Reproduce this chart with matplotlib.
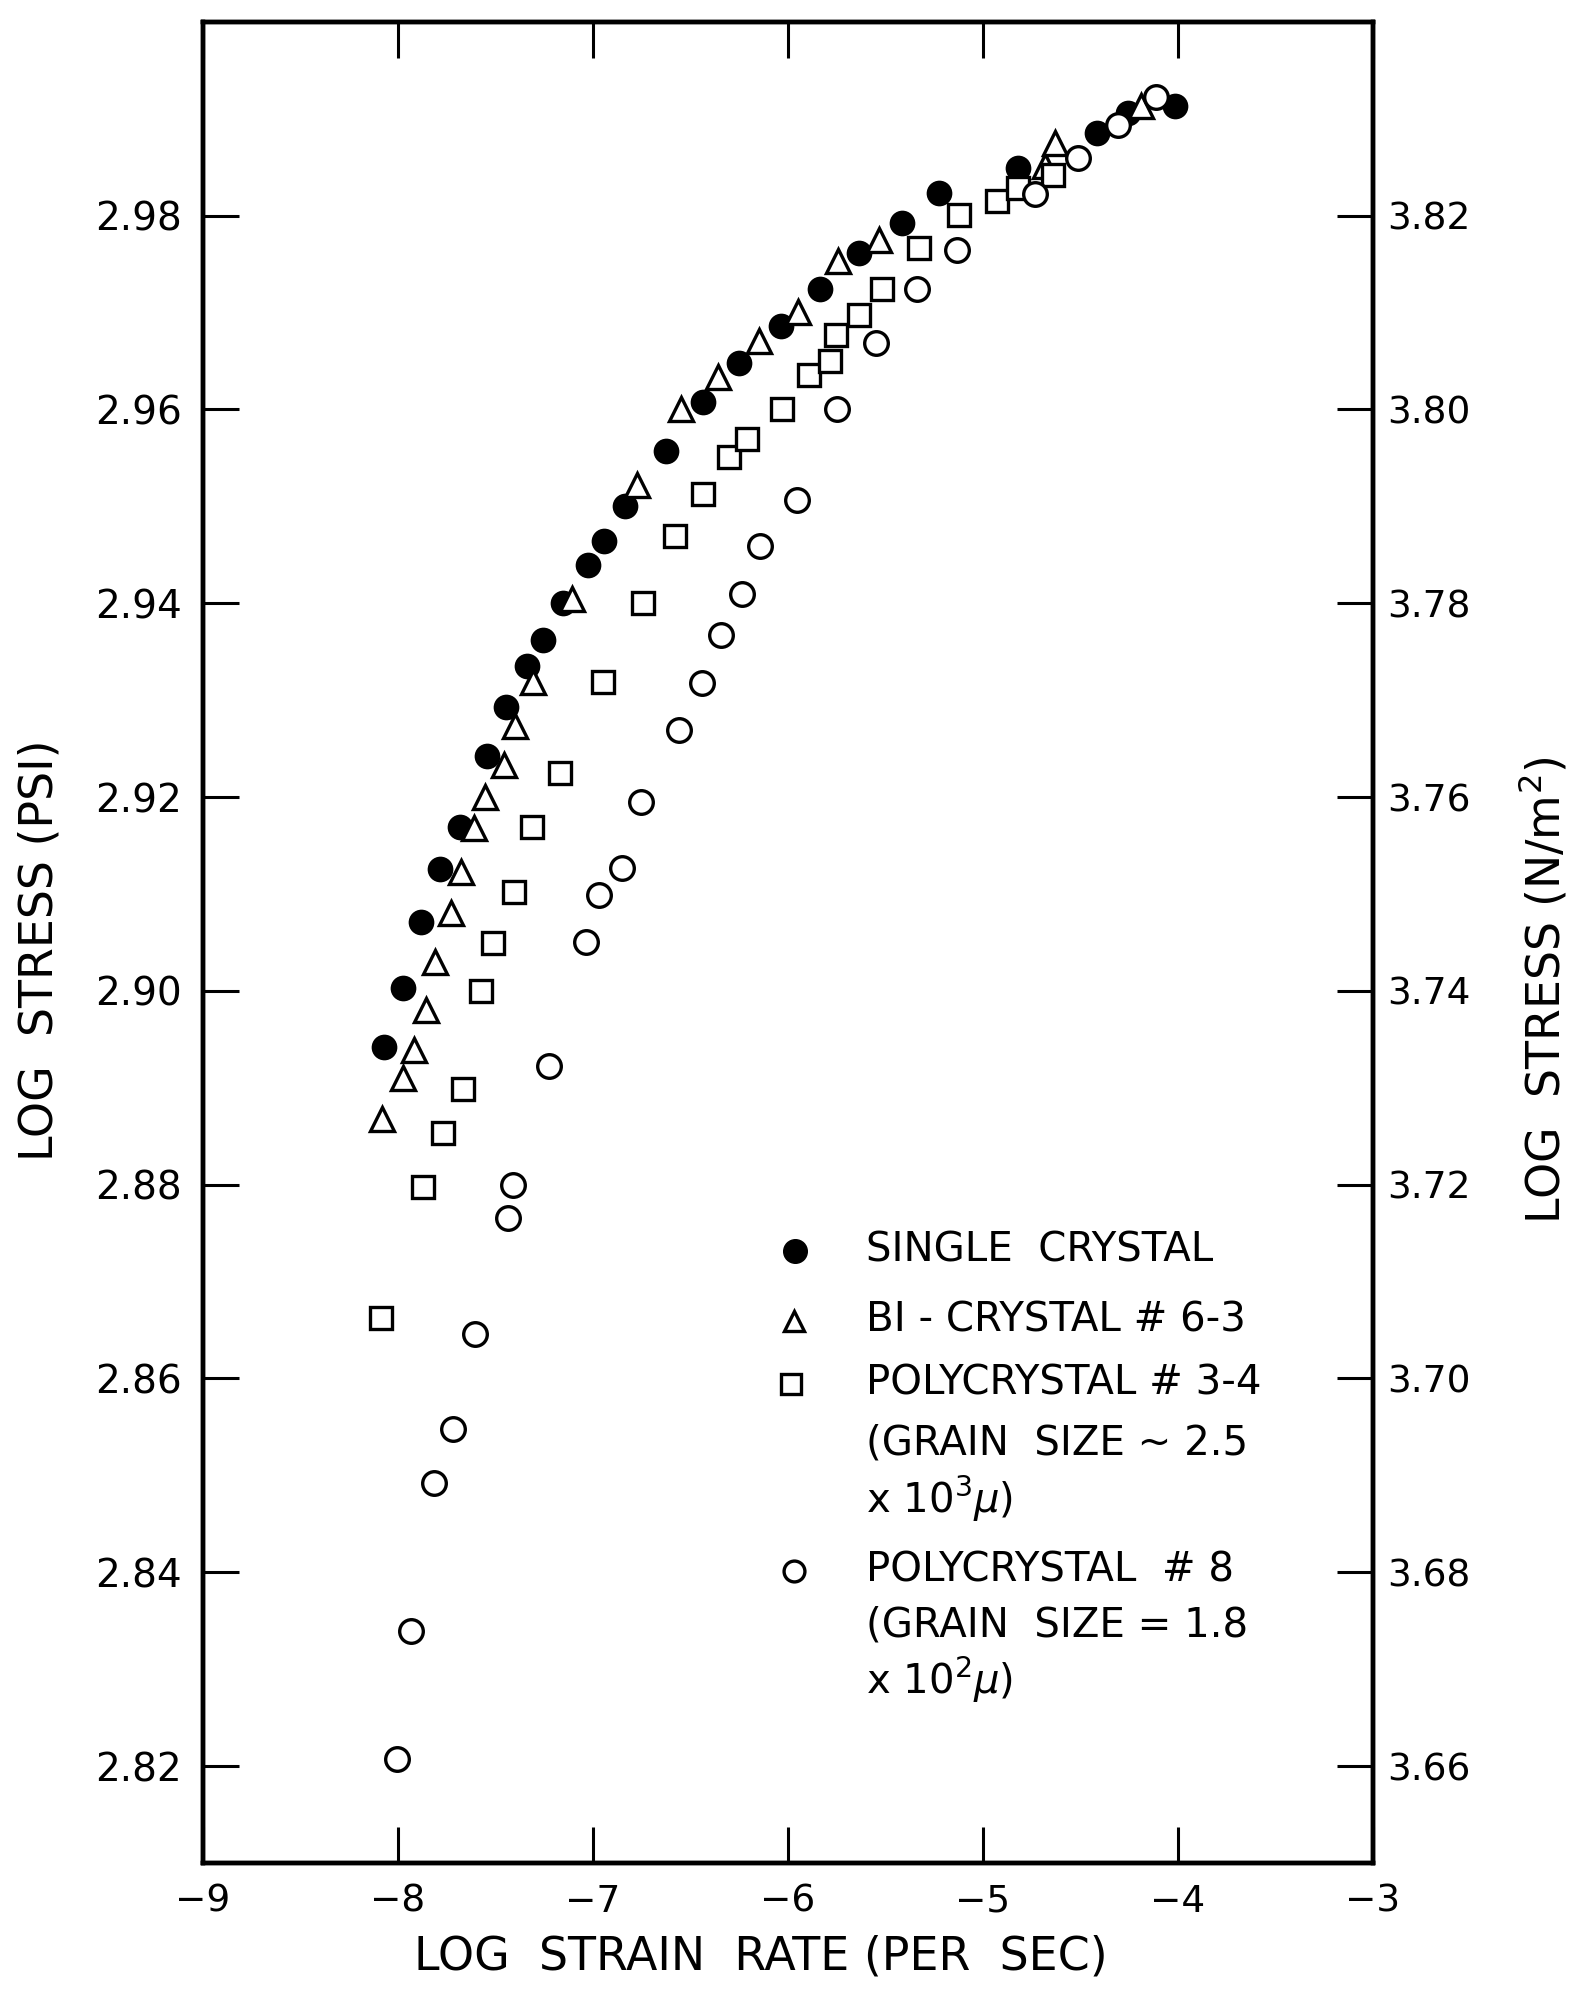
import matplotlib
matplotlib.use('Agg')
import matplotlib.pyplot as plt

# values
single_x = [-8.07, -7.976, -7.882, -7.786, -7.683, -7.544, -7.446, -7.340, -7.254, -7.155,
            -7.027, -6.941, -6.838, -6.625, -6.437, -6.25, -6.038, -5.833, -5.635, -5.413,
            -5.226, -4.818, -4.417, -4.255, -4.014]
single_y = [2.8942, 2.9003, 2.9071, 2.9126, 2.9169, 2.9242, 2.9293, 2.9335, 2.9362, 2.9400,
            2.9440, 2.9464, 2.9500, 2.9557, 2.9608, 2.9648, 2.9686, 2.9724, 2.9761, 2.9792,
            2.9823, 2.9849, 2.9885, 2.9906, 2.9913]

bi_x = [-8.081, -7.972, -7.92, -7.857, -7.809, -7.729, -7.678, -7.609, -7.553, -7.455,
        -7.399, -7.310, -7.105, -6.775, -6.549, -6.36, -6.15, -5.95, -5.744, -5.532,
        -4.683, -4.631, -4.187]
bi_y = [2.8868, 2.8910, 2.8939, 2.8980, 2.9030, 2.9080, 2.9123, 2.9168, 2.9200, 2.9233,
        2.9273, 2.9319, 2.9404, 2.9522, 2.9600, 2.9634, 2.9671, 2.9701, 2.9753, 2.9775,
        2.9851, 2.9875, 2.9913]

poly34_x = [-8.085, -7.872, -7.77, -7.666, -7.575, -7.515, -7.403, -7.313, -7.170, -6.948,
            -6.743, -6.577, -6.437, -6.303, -6.21, -6.030, -5.892, -5.782, -5.756, -5.637,
            -5.518, -5.330, -5.125, -4.929, -4.818, -4.640]
poly34_y = [2.8662, 2.8798, 2.8853, 2.8899, 2.9000, 2.9049, 2.9102, 2.9169, 2.9225, 2.9319,
            2.9400, 2.9469, 2.9513, 2.9551, 2.9570, 2.9600, 2.9636, 2.9650, 2.9677, 2.9698,
            2.9724, 2.9767, 2.9801, 2.9815, 2.9829, 2.9842]

poly8_x = [-8.005, -7.934, -7.817, -7.719, -7.605, -7.434, -7.41, -7.225, -7.034, -6.970,
           -6.853, -6.753, -6.557, -6.441, -6.344, -6.238, -6.141, -5.953, -5.749, -5.549,
           -5.339, -5.134, -4.733, -4.511, -4.306, -4.110]
poly8_y = [2.8207, 2.8339, 2.8492, 2.8548, 2.8646, 2.8766, 2.8800, 2.8922, 2.9050, 2.9099,
           2.9127, 2.9195, 2.9269, 2.9318, 2.9367, 2.9410, 2.9459, 2.9507, 2.9600, 2.9669,
           2.9724, 2.9765, 2.9822, 2.9860, 2.9894, 2.9923]

x_ticks = [-9, -8, -7, -6, -5, -4, -3]
psi_ticks = [2.82, 2.84, 2.86, 2.88, 2.90, 2.92, 2.94, 2.96, 2.98]
nm2_offset = 0.84   # log(N/m^2) axis = log(psi) axis + 0.84
nm2_ticks = [3.66, 3.68, 3.70, 3.72, 3.74, 3.76, 3.78, 3.80, 3.82]

legend_lines = [
    ('o', 'SINGLE  CRYSTAL'),
    ('^', 'BI - CRYSTAL # 6-3'),
    ('s', 'POLYCRYSTAL # 3-4'),
    (None, '(GRAIN  SIZE ~ 2.5'),
    (None, 'x 10$^3\\mu$)'),
    ('O', 'POLYCRYSTAL  # 8'),
    (None, '(GRAIN  SIZE = 1.8'),
    (None, 'x 10$^2\\mu$)'),
]
legend_y = [0.3324, 0.2944, 0.2602, 0.2276, 0.1977, 0.1586, 0.1287, 0.0994]

plt.rcParams['font.family'] = ['DejaVu Sans']
plt.rcParams['mathtext.fontset'] = 'dejavusans'

fig = plt.figure(figsize=(15.71, 19.92), dpi=100)
ax = fig.add_axes([0.1292, 0.0648, 0.7447, 0.9242])

ax.plot(single_x, single_y, 'o', ms=17, color='black', mec='black', mew=1.5)
ax.plot(bi_x, bi_y, '^', ms=17, mfc='white', mec='black', mew=2.4)
ax.plot(poly34_x, poly34_y, 's', ms=16, mfc='white', mec='black', mew=2.4)
ax.plot(poly8_x, poly8_y, 'o', ms=17, mfc='white', mec='black', mew=2.4)

ax.set_xlim(-9, -3)
ax.set_ylim(2.81, 3.00)
ax.set_xticks(x_ticks)
ax.set_xticklabels([f'\u2212{abs(v)}' for v in x_ticks])
ax.set_yticks(psi_ticks)
ax.set_yticklabels([f'{v:.2f}' for v in psi_ticks])
ax.tick_params(axis='both', direction='in', length=26, width=2.2, labelsize=27)
ax.tick_params(axis='x', top=True, pad=15)
ax.tick_params(axis='y', pad=15, labelsize=28)
for s in ax.spines.values():
    s.set_linewidth(3.2)

ax2 = ax.twinx()
ax2.set_ylim(2.81 + nm2_offset, 3.00 + nm2_offset)
ax2.set_yticks(nm2_ticks)
ax2.set_yticklabels([f'{v:.2f}' for v in nm2_ticks])
ax2.tick_params(axis='y', direction='in', length=26, width=2.2, labelsize=27, pad=10)
for s in ax2.spines.values():
    s.set_linewidth(3.2)

ax.set_xlabel('LOG  STRAIN  RATE (PER  SEC)', fontsize=33, va='center')
ax.xaxis.set_label_coords(0.477, -0.051)
ax.set_ylabel('LOG  STRESS (PSI)', fontsize=33, va='center')
ax.yaxis.set_label_coords(-0.139, 0.496)
ax2.set_ylabel('LOG  STRESS (N/m$^2$)', fontsize=33, va='center', rotation=90)
ax2.yaxis.set_label_coords(1.146, 0.474)

# legend drawn by hand: marker on the first line of each entry
for (m, txt), yy in zip(legend_lines, legend_y):
    if m == 'o':
        ax.plot([0.506], [yy], 'o', ms=17, color='black', transform=ax.transAxes, clip_on=False)
    elif m == '^':
        ax.plot([0.505], [yy], '^', ms=15, mfc='white', mec='black', mew=2.4,
                transform=ax.transAxes, clip_on=False)
    elif m == 's':
        ax.plot([0.503], [yy], 's', ms=14, mfc='white', mec='black', mew=2.4,
                transform=ax.transAxes, clip_on=False)
    elif m == 'O':
        ax.plot([0.505], [yy], 'o', ms=15, mfc='white', mec='black', mew=2.4,
                transform=ax.transAxes, clip_on=False)
    ax.text(0.567, yy, txt, transform=ax.transAxes, fontsize=29, ha='left', va='center')

fig.savefig('out.png', dpi=100)
